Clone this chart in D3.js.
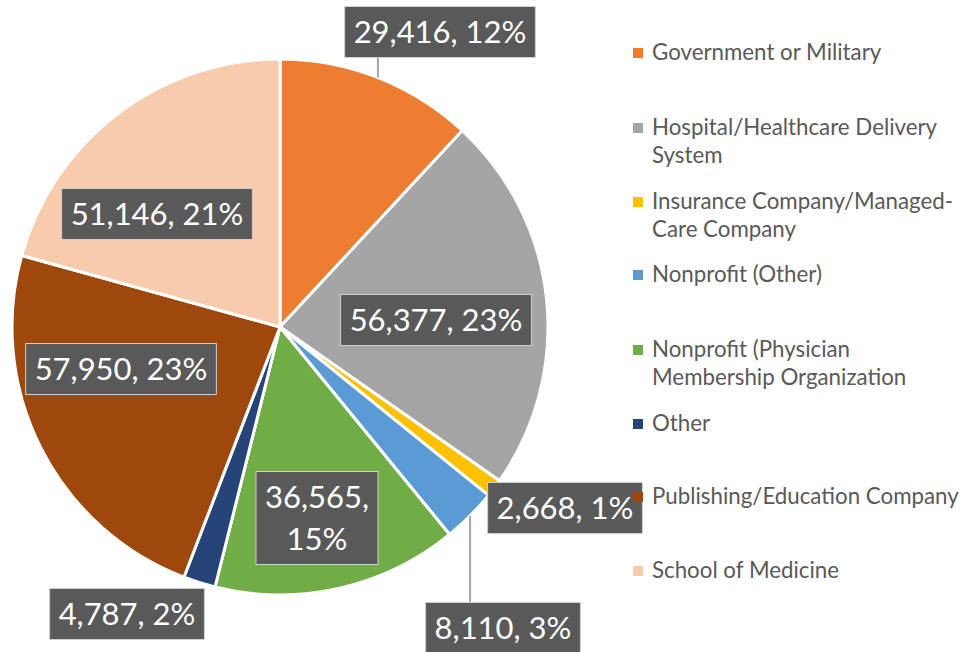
<!DOCTYPE html>
<html>
<head>
<meta charset="utf-8">
<script src="https://cdn.jsdelivr.net/npm/d3@7"></script>
<style>
  html, body { margin: 0; padding: 0; background: #fff; }
  svg { display: block; }
</style>
</head>
<body>
<div id="chart"></div>
<script>
// data
var categories = ["Government or Military", "Hospital/Healthcare Delivery System",
  "Insurance Company/Managed-Care Company", "Nonprofit (Other)",
  "Nonprofit (Physician Membership Organization", "Other",
  "Publishing/Education Company", "School of Medicine"];
var values = [29416, 56377, 2668, 8110, 36565, 4787, 57950, 51146];
var colors = ["#ED7D31", "#A5A5A5", "#FFC000", "#5B9BD5", "#70AD47", "#264478", "#9E480E", "#F8CBAD"];
// legend text lines (wrapped as in the original)
var legendLines = [["Government or Military"], ["Hospital/Healthcare Delivery", "System"],
  ["Insurance Company/Managed-", "Care Company"], ["Nonprofit (Other)"],
  ["Nonprofit (Physician", "Membership Organization"], ["Other"],
  ["Publishing/Education Company"], ["School of Medicine"]];

var width = 961, height = 652;
var cx = 280, cy = 327, radius = 268;

// label box centres relative to pie centre, and whether a leader line is drawn
var labelLayout = [
  { dx: 160, dy: -295, leader: "v" },
  { dx: 156, dy: -7 },
  { dx: 285, dy: 181, leader: "h" },
  { dx: 223, dy: 301, leader: "v" },
  { dx: 37, dy: 191, wrap: true },
  { dx: -153, dy: 287 },
  { dx: -159, dy: 42 },
  { dx: -123, dy: -113 }
];
var legendY = [60, 135, 209, 282, 357, 431, 504, 578];

var svg = d3.select("#chart").append("svg")
  .attr("width", width)
  .attr("height", height);

var total = d3.sum(values);
var pie = d3.pie().sort(null).value(function (d) { return d; });
var arcs = pie(values);
var arc = d3.arc().innerRadius(0).outerRadius(radius);
var fmt = d3.format(",");

var g = svg.append("g").attr("transform", "translate(" + cx + "," + cy + ")");

g.selectAll("path.slice")
  .data(arcs)
  .enter()
  .append("path")
  .attr("class", "slice")
  .attr("d", arc)
  .style("fill", function (d, i) { return colors[i]; })
  .style("stroke", "#fff")
  .style("stroke-width", 3)
  .style("stroke-linejoin", "round");

// labels
var labelFont = "Lato, 'Open Sans', sans-serif";
var lineH = 42, padX = 9, padY = 4.5;

arcs.forEach(function (d, i) {
  var lay = labelLayout[i];
  var pct = Math.round(d.value / total * 100) + "%";
  var lines = lay.wrap ? [fmt(d.value) + ",", pct] : [fmt(d.value) + ", " + pct];
  var lg = g.append("g").attr("class", "label");
  var rect = lg.append("rect");
  var txt = lg.append("text")
    .attr("text-anchor", "middle")
    .style("font-family", labelFont)
    .style("font-size", "31px")
    .style("fill", "#fff");
  lines.forEach(function (t, k) {
    txt.append("tspan")
      .attr("x", lay.dx)
      .attr("y", lay.dy - (lines.length - 1) * lineH / 2 + k * lineH + 11)
      .text(t);
  });
  var w = d3.max(txt.selectAll("tspan").nodes(), function (n) { return n.getComputedTextLength(); }) + padX * 2;
  var h = lines.length * lineH + padY * 2;
  rect.attr("x", lay.dx - w / 2)
    .attr("y", lay.dy - h / 2)
    .attr("width", w)
    .attr("height", h)
    .style("fill", "#595959")
    .style("stroke", "#D0D0D0")
    .style("stroke-width", 1);

  if (lay.leader) {
    var mid = (d.startAngle + d.endAngle) / 2;
    var px = Math.sin(mid) * radius, py = -Math.cos(mid) * radius;
    var ex, ey;
    if (lay.leader === "v") {
      ex = px;
      ey = py < lay.dy ? lay.dy - h / 2 : lay.dy + h / 2;
    } else {
      ex = px + 14;
      ey = lay.dy - h / 2;
    }
    g.insert("line", ".label")
      .attr("x1", px).attr("y1", py)
      .attr("x2", ex).attr("y2", ey)
      .style("stroke", "#A6A6A6")
      .style("stroke-width", 2);
  }
});

// legend
var legend = svg.append("g").attr("class", "legend");
var items = legend.selectAll("g")
  .data(categories)
  .enter()
  .append("g")
  .attr("transform", function (d, i) { return "translate(633," + legendY[i] + ")"; });

items.append("rect")
  .attr("x", 0)
  .attr("y", -12)
  .attr("width", 10)
  .attr("height", 10)
  .style("fill", function (d, i) { return colors[i]; });

items.append("text")
  .style("font-family", labelFont)
  .style("font-size", "22.3px")
  .style("fill", "#595959")
  .selectAll("tspan")
  .data(function (d, i) { return legendLines[i]; })
  .enter()
  .append("tspan")
  .attr("x", 19)
  .attr("y", function (d, k) { return k * 28; })
  .text(function (d) { return d; });
</script>
</body>
</html>
